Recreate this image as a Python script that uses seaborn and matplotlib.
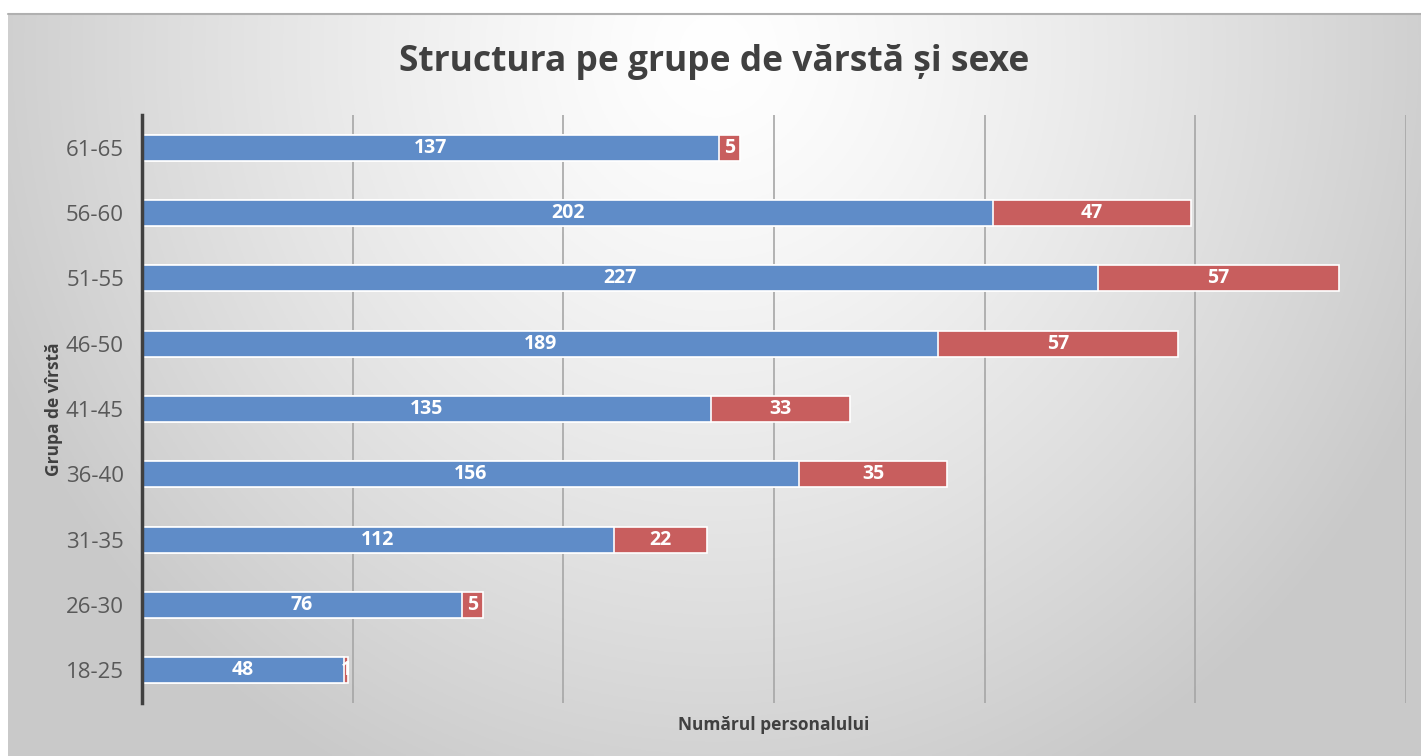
import numpy as np
import pandas as pd
import matplotlib.pyplot as plt
import seaborn as sns

# date
grupe = ['61-65', '56-60', '51-55', '46-50', '41-45', '36-40', '31-35', '26-30', '18-25']
barbati = [137, 202, 227, 189, 135, 156, 112, 76, 48]
femei = [5, 47, 57, 57, 33, 35, 22, 5, 1]

df = pd.DataFrame({'grupa': grupe, 'barbati': barbati, 'femei': femei})
df['total'] = df['barbati'] + df['femei']

sns.set_theme(style='white')
plt.rcParams['font.family'] = ['Open Sans', 'DejaVu Sans']

fig = plt.figure(figsize=(14.21, 7.56), dpi=100)
fig.patch.set_facecolor('white')

# fundal cu gradient
bg = fig.add_axes([8 / 1421, 0, 1 - 8 / 1421, (756 - 14) / 756])
h, w = 300, 600
yy, xx = np.mgrid[0:h, 0:w]
d = np.sqrt(((xx - w * 0.5) / (w * 0.55)) ** 2 + ((yy - h * 0.05) / (h * 1.1)) ** 2)
g = 1.0 - 0.21 * np.clip(d, 0, 1.0) ** 1.3
bg.imshow(np.dstack([g, g, g]), aspect='auto', extent=[0, 1, 0, 1], origin='upper')
bg.set_axis_off()
fig.add_artist(plt.Line2D([8 / 1421, 1], [(756 - 14) / 756] * 2, color='#b0b0b0', lw=1.5))

ax = fig.add_axes([142 / 1421, 53 / 756, (1406 - 142) / 1421, (703 - 115) / 756])
ax.patch.set_alpha(0)

blue = '#5f8cc8'
red = '#c85e5e'
sns.barplot(data=df, x='total', y='grupa', order=grupe, color=red, width=0.4,
            edgecolor='white', linewidth=1.2, ax=ax, saturation=1)
sns.barplot(data=df, x='barbati', y='grupa', order=grupe, color=blue, width=0.4,
            edgecolor='white', linewidth=1.2, ax=ax, saturation=1)

red_bars = ax.containers[0]
blue_bars = ax.containers[1]
ax.bar_label(blue_bars, labels=[str(v) for v in barbati], label_type='center',
             color='white', fontsize=14, fontweight='bold')
for rect, v, b in zip(red_bars, femei, barbati):
    y = rect.get_y() + rect.get_height() / 2
    ax.text(b + v / 2, y, str(v), ha='center', va='center', color='white',
            fontsize=14, fontweight='bold')

ax.set_xlim(0, 300)
ax.set_ylim(8.5, -0.5)
ax.set_xticks([50, 100, 150, 200, 250, 300])
ax.set_xticklabels([])
ax.tick_params(axis='x', length=0)
ax.tick_params(axis='y', length=0, labelsize=16, labelcolor='#595959', pad=13)
ax.grid(axis='x', color='#a6a6a6', lw=1.2)
ax.set_axisbelow(True)
for s in ['top', 'right', 'bottom']:
    ax.spines[s].set_visible(False)
ax.spines['left'].set_color('#404040')
ax.spines['left'].set_linewidth(2.5)

ax.set_xlabel('Numărul personalului', fontsize=12.5, fontweight='bold', color='#404040', labelpad=6)
ax.set_ylabel('Grupa de vîrstă', fontsize=12.5, fontweight='bold', color='#404040', labelpad=2)

fig.text(0.5 + 8 / 1421 / 2, 1 - 62 / 756, 'Structura pe grupe de vărstă și sexe', ha='center',
         va='center', fontsize=25.5, fontweight='bold', color='#404040')

plt.savefig('out.png', dpi=100)
